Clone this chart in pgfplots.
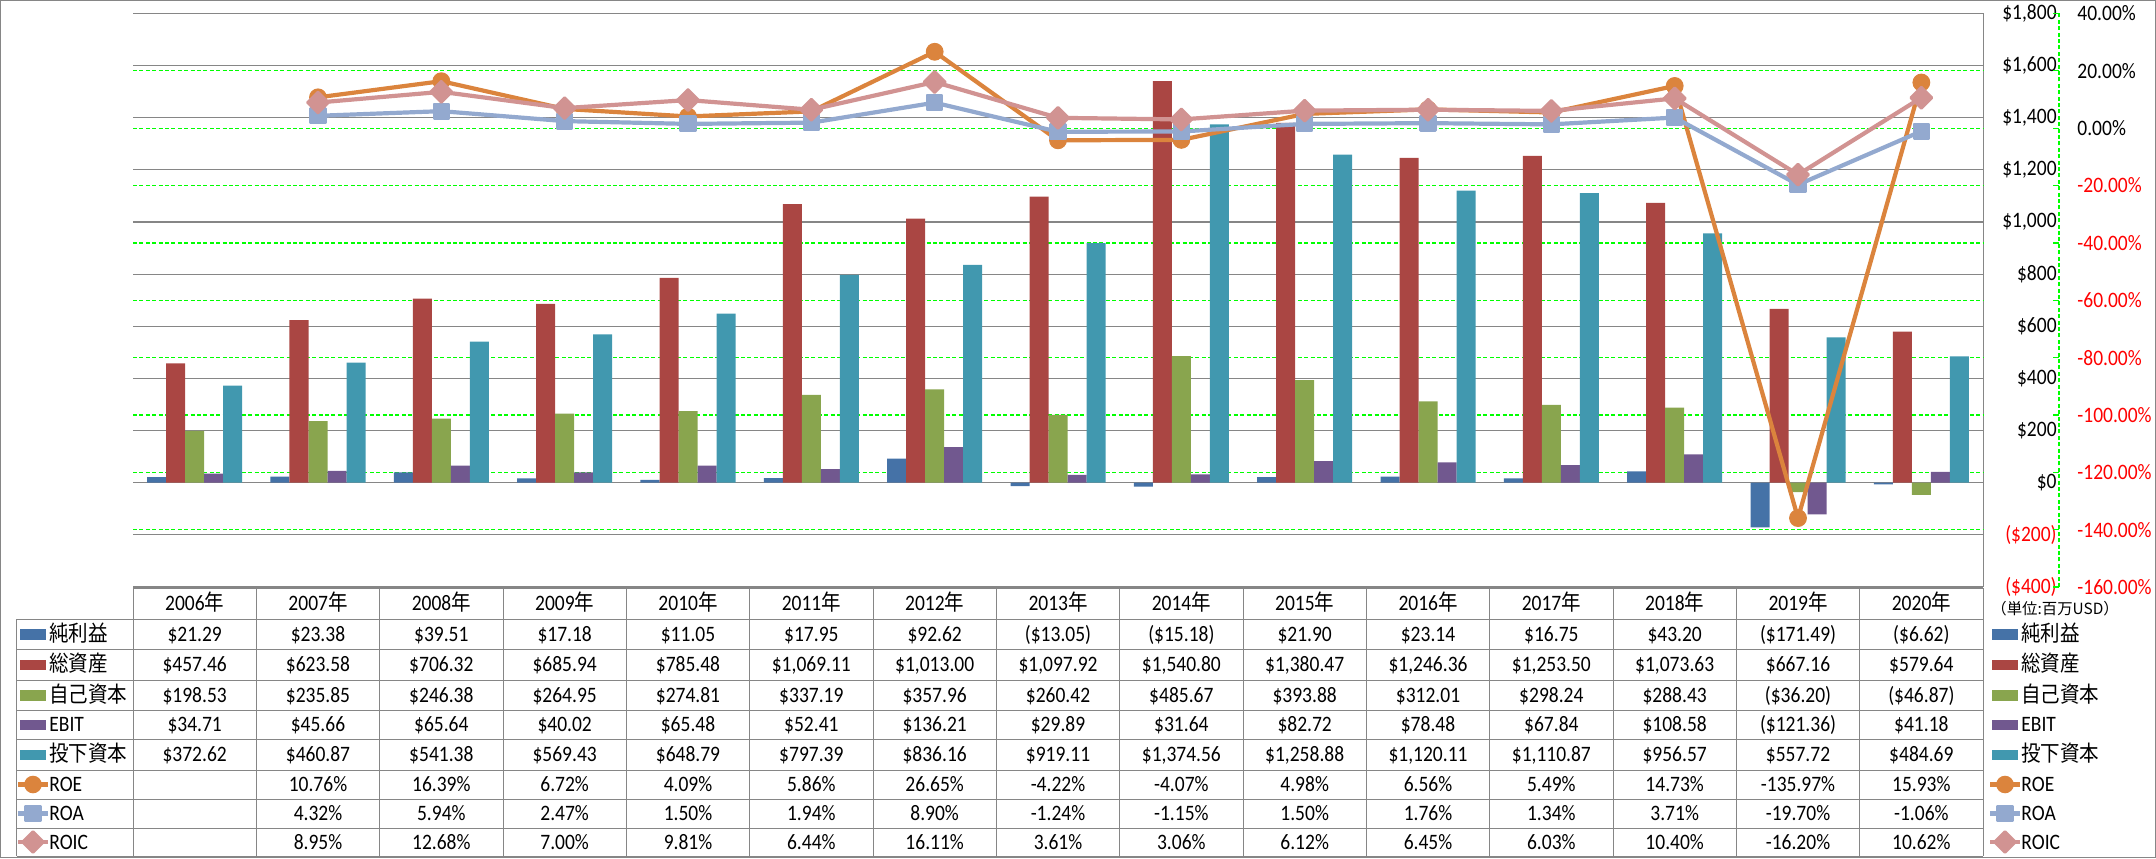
\documentclass[border=0pt]{standalone}
\usepackage{pgfplots}
\pgfplotsset{compat=1.18}
\usepackage{pgfplotstable}
\usepackage{graphicx}
\usepackage{fontspec}
\setmainfont{Carlito}
\newfontfamily\cjk{Noto Sans CJK JP}
\definecolor{cblue}{HTML}{4572A7}
\definecolor{cred}{HTML}{AA4643}
\definecolor{cgreen}{HTML}{89A54E}
\definecolor{cpurple}{HTML}{71588F}
\definecolor{cteal}{HTML}{4198AF}
\definecolor{corange}{HTML}{DB843D}
\definecolor{clblue}{HTML}{93A9CF}
\definecolor{cpink}{HTML}{D19392}
\definecolor{gridgray}{HTML}{868686}
\definecolor{tgreen}{HTML}{00FF00}
\newcommand\fs{\fontsize{9.75pt}{11pt}\selectfont}
\newcommand\st[1]{\scalebox{1}[1.13]{#1}}
\newcommand\rt[1]{\textcolor{red}{\st{#1}}}
\pgfplotstableread{
x ni ta eq ebit ic roe roa roic
0 21.29 457.46 198.53 34.71 372.62 nan nan nan
1 23.38 623.58 235.85 45.66 460.87 10.76 4.32 8.95
2 39.51 706.32 246.38 65.64 541.38 16.39 5.94 12.68
3 17.18 685.94 264.95 40.02 569.43 6.72 2.47 7.00
4 11.05 785.48 274.81 65.48 648.79 4.09 1.50 9.81
5 17.95 1069.11 337.19 52.41 797.39 5.86 1.94 6.44
6 92.62 1013.00 357.96 136.21 836.16 26.65 8.90 16.11
7 -13.05 1097.92 260.42 29.89 919.11 -4.22 -1.24 3.61
8 -15.18 1540.80 485.67 31.64 1374.56 -4.07 -1.15 3.06
9 21.90 1380.47 393.88 82.72 1258.88 4.98 1.50 6.12
10 23.14 1246.36 312.01 78.48 1120.11 6.56 1.76 6.45
11 16.75 1253.50 298.24 67.84 1110.87 5.49 1.34 6.03
12 43.20 1073.63 288.43 108.58 956.57 14.73 3.71 10.40
13 -171.49 667.16 -36.20 -121.36 557.72 -135.97 -19.70 -16.20
14 -6.62 579.64 -46.87 41.18 484.69 15.93 -1.06 10.62
}\data
\begin{document}
\fs
\begin{tikzpicture}
\begin{scope}[x=0.5pt, y=-0.5pt, shift={(0pt,429pt)}]
\useasboundingbox (0,0) rectangle (2156,858);
\draw[gridgray, line width=0.5pt] (0.5,0.5) rectangle (2155.5,857.5);
\end{scope}
% ---------- bars ($ axis) ----------
\begin{axis}[
  at={(66.5pt,135.5pt)}, anchor=south west,
  scale only axis, width=925pt, height=286.75pt,
  xmin=-0.5, xmax=14.5, ymin=-400, ymax=1800,
  axis x line=none, axis y line*=right,
  y axis line style={draw=gridgray, line width=0.5pt, -},
  ytick={-400,-200,...,1800},
  yticklabels={{\rt{(\$400)}},{\rt{(\$200)}},{\st{\$0}},{\st{\$200}},{\st{\$400}},{\st{\$600}},{\st{\$800}},{\st{\$1,000}},{\st{\$1,200}},{\st{\$1,400}},{\st{\$1,600}},{\st{\$1,800}}},
  major tick length=0pt,
  ymajorgrids, grid style={gridgray, line width=0.55pt},
  extra y ticks={-180,40,260,480,700,920,1140,1360,1580},
  extra y tick labels={},
  extra y tick style={major grid style={tgreen, line width=0.65pt, dash pattern=on 2pt off 1.2pt}},
  yticklabel style={anchor=east, inner sep=0pt, xshift=37pt, font=\fs},
  clip=false,
]
\addplot[ybar, bar width=0.1541, bar shift=-0.3082, fill=cblue, draw=none] table[x=x,y=ni]{\data};
\addplot[ybar, bar width=0.1541, bar shift=-0.1541, fill=cred, draw=none] table[x=x,y=ta]{\data};
\addplot[ybar, bar width=0.1541, bar shift=0, fill=cgreen, draw=none] table[x=x,y=eq]{\data};
\addplot[ybar, bar width=0.1541, bar shift=0.1541, fill=cpurple, draw=none] table[x=x,y=ebit]{\data};
\addplot[ybar, bar width=0.1541, bar shift=0.3082, fill=cteal, draw=none] table[x=x,y=ic]{\data};
\end{axis}
% ---------- lines (% axis) ----------
\begin{axis}[
  at={(66.5pt,135.5pt)}, anchor=south west,
  scale only axis, width=925pt, height=286.75pt,
  xmin=-0.5, xmax=14.5, ymin=-160, ymax=40,
  axis x line=none, axis y line*=right,
  axis y line shift=38pt,
  y axis line style={draw=tgreen, line width=0.65pt, dash pattern=on 2pt off 1.2pt, -},
  ytick={-160,-140,...,40},
  yticklabels={{\rt{-160.00\%}},{\rt{-140.00\%}},{\rt{-120.00\%}},{\rt{-100.00\%}},{\rt{-80.00\%}},{\rt{-60.00\%}},{\rt{-40.00\%}},{\rt{-20.00\%}},{\st{0.00\%}},{\st{20.00\%}},{\st{40.00\%}}},
  major tick length=3pt,
  ytick style={tgreen, line width=0.65pt},
  yticklabel style={anchor=west, inner sep=0pt, xshift=9pt, font=\fs},
  clip=false,
]
\addplot[corange, line width=2.1pt, line join=round, mark=*, mark size=4.2pt, mark options={solid, fill=corange, draw=corange, line width=0.5pt}] table[x=x,y=roe]{\data};
\addplot[clblue, line width=2.1pt, line join=round, mark=square*, mark size=3.7pt, mark options={solid, fill=clblue, draw=clblue, line width=1.2pt, line join=round}] table[x=x,y=roa]{\data};
\addplot[cpink, line width=2.1pt, line join=round, mark=square*, mark size=3.8pt, mark options={solid, rotate=45, fill=cpink, draw=cpink, line width=1.2pt, line join=round}] table[x=x,y=roic]{\data};
\end{axis}
% ---------- data table ----------
\begin{scope}[x=0.5pt, y=-0.5pt, shift={(0pt,429pt)}]
\tikzset{cell/.style={anchor=base, inner sep=0pt, font=\fs}}
\draw[gridgray, line width=0.5pt] (133,588) -- (1983,588);
\foreach \yy in {619,649,680,710,739,770,799,828,856}
  \draw[gridgray, line width=0.5pt] (16.5,\yy) -- (1983,\yy);
\draw[gridgray, line width=0.5pt] (16.5,619) -- (16.5,856);
\foreach \k in {0,...,15}
  \draw[gridgray, line width=0.5pt] (133+123.333*\k,588) -- (133+123.333*\k,856);
% header
\foreach \t [count=\i from 0] in {2006,2007,2008,2009,2010,2011,2012,2013,2014,2015,2016,2017,2018,2019,2020}
  \node[cell] at (194.67+123.333*\i,610) {\st{\t{\cjk 年}}};
% rows
\foreach \t [count=\i from 0] in {{\$21.29},{\$23.38},{\$39.51},{\$17.18},{\$11.05},{\$17.95},{\$92.62},{(\$13.05)},{(\$15.18)},{\$21.90},{\$23.14},{\$16.75},{\$43.20},{(\$171.49)},{(\$6.62)}}
  \node[cell] at (194.67+123.333*\i,641) {\st{\t}};
\foreach \t [count=\i from 0] in {{\$457.46},{\$623.58},{\$706.32},{\$685.94},{\$785.48},{\$1,069.11},{\$1,013.00},{\$1,097.92},{\$1,540.80},{\$1,380.47},{\$1,246.36},{\$1,253.50},{\$1,073.63},{\$667.16},{\$579.64}}
  \node[cell] at (194.67+123.333*\i,671.5) {\st{\t}};
\foreach \t [count=\i from 0] in {{\$198.53},{\$235.85},{\$246.38},{\$264.95},{\$274.81},{\$337.19},{\$357.96},{\$260.42},{\$485.67},{\$393.88},{\$312.01},{\$298.24},{\$288.43},{(\$36.20)},{(\$46.87)}}
  \node[cell] at (194.67+123.333*\i,702) {\st{\t}};
\foreach \t [count=\i from 0] in {{\$34.71},{\$45.66},{\$65.64},{\$40.02},{\$65.48},{\$52.41},{\$136.21},{\$29.89},{\$31.64},{\$82.72},{\$78.48},{\$67.84},{\$108.58},{(\$121.36)},{\$41.18}}
  \node[cell] at (194.67+123.333*\i,731.5) {\st{\t}};
\foreach \t [count=\i from 0] in {{\$372.62},{\$460.87},{\$541.38},{\$569.43},{\$648.79},{\$797.39},{\$836.16},{\$919.11},{\$1,374.56},{\$1,258.88},{\$1,120.11},{\$1,110.87},{\$956.57},{\$557.72},{\$484.69}}
  \node[cell] at (194.67+123.333*\i,761.5) {\st{\t}};
\foreach \t [count=\i from 0] in {{},{10.76\%},{16.39\%},{6.72\%},{4.09\%},{5.86\%},{26.65\%},{-4.22\%},{-4.07\%},{4.98\%},{6.56\%},{5.49\%},{14.73\%},{-135.97\%},{15.93\%}}
  \node[cell] at (194.67+123.333*\i,791.5) {\st{\t}};
\foreach \t [count=\i from 0] in {{},{4.32\%},{5.94\%},{2.47\%},{1.50\%},{1.94\%},{8.90\%},{-1.24\%},{-1.15\%},{1.50\%},{1.76\%},{1.34\%},{3.71\%},{-19.70\%},{-1.06\%}}
  \node[cell] at (194.67+123.333*\i,820.5) {\st{\t}};
\foreach \t [count=\i from 0] in {{},{8.95\%},{12.68\%},{7.00\%},{9.81\%},{6.44\%},{16.11\%},{3.61\%},{3.06\%},{6.12\%},{6.45\%},{6.03\%},{10.40\%},{-16.20\%},{10.62\%}}
  \node[cell] at (194.67+123.333*\i,849) {\st{\t}};
% legend keys (left column and right side)
\foreach \kx/\lx in {20/49, 1992/2021}{
  \fill[cblue]   (\kx,629) rectangle ++(26,10.5);
  \fill[cred]    (\kx,659.5) rectangle ++(26,10.5);
  \fill[cgreen]  (\kx,690) rectangle ++(26,10.5);
  \fill[cpurple] (\kx,719.5) rectangle ++(26,10.5);
  \fill[cteal]   (\kx,749.5) rectangle ++(26,10.5);
  \draw[corange, line width=2.1pt] (\kx-2,784.5) -- ++(30,0);
  \fill[corange] (\kx+13,784.5) circle[radius=4.4pt];
  \draw[clblue, line width=2.1pt] (\kx-2,813.5) -- ++(30,0);
  \filldraw[clblue, line width=1.2pt, line join=round] (\kx+13,813.5) +(-3.7pt,-3.7pt) rectangle +(3.7pt,3.7pt);
  \draw[cpink, line width=2.1pt] (\kx-2,842) -- ++(30,0);
  \filldraw[cpink, line width=1.2pt, line join=round] (\kx+13,842) +(0,-5.3pt) -- +(5.3pt,0) -- +(0,5.3pt) -- +(-5.3pt,0) -- cycle;
  \node[cell, anchor=base west] at (\lx,641) {\st{\cjk 純利益}};
  \node[cell, anchor=base west] at (\lx,671.5) {\st{\cjk 総資産}};
  \node[cell, anchor=base west] at (\lx,702) {\st{\cjk 自己資本}};
  \node[cell, anchor=base west] at (\lx,731.5) {\st{EBIT}};
  \node[cell, anchor=base west] at (\lx,761.5) {\st{\cjk 投下資本}};
  \node[cell, anchor=base west] at (\lx,791.5) {\st{ROE}};
  \node[cell, anchor=base west] at (\lx,820.5) {\st{ROA}};
  \node[cell, anchor=base west] at (\lx,849) {\st{ROIC}};
}
\node[anchor=base west, inner sep=0pt, font=\cjk\fontsize{7.7pt}{9pt}\selectfont] at (1991,614) {（単位:百万USD）};
\end{scope}
\end{tikzpicture}
\end{document}
